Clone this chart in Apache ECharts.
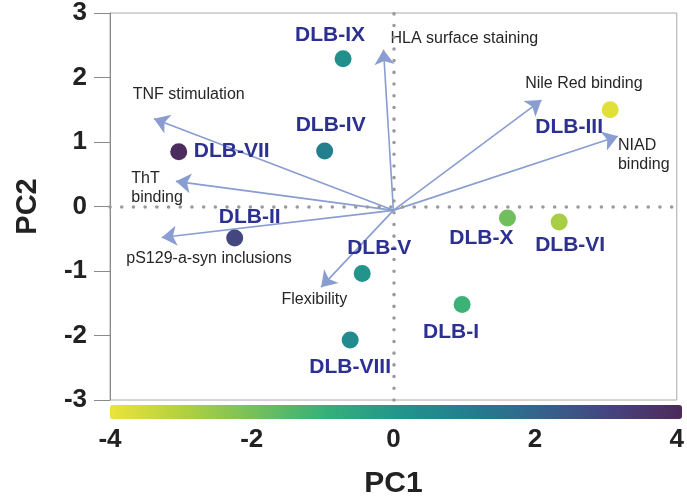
<!DOCTYPE html>
<html>
<head>
<meta charset="utf-8">
<script src="https://cdn.jsdelivr.net/npm/echarts@6/dist/echarts.min.js"></script>
<style>
  html, body { margin: 0; padding: 0; background: #fff; }
  #chart { width: 687px; height: 504px; }
</style>
</head>
<body>
<div id="chart"></div>
<script>
// PCA biplot: samples + loading arrows
var samples = ['DLB-I', 'DLB-II', 'DLB-III', 'DLB-IV', 'DLB-V', 'DLB-VI', 'DLB-VII', 'DLB-VIII', 'DLB-IX', 'DLB-X'];
var pc1 = [0.97, -2.24, 3.06, -0.97, -0.44, 2.34, -3.03, -0.61, -0.71, 1.61];
var pc2 = [-1.52, -0.49, 1.50, 0.86, -1.04, -0.24, 0.85, -2.07, 2.29, -0.18];
var colorScore = [-1.1, 2.9, -3.8, 1.0, 0.1, -2.8, 3.9, 0.5, 0.3, -1.9];

var loadings = ['HLA surface staining', 'Nile Red binding', 'NIAD\nbinding', 'TNF stimulation', 'ThT\nbinding', 'pS129-a-syn inclusions', 'Flexibility'];
var loadX = [-0.14, 2.09, 3.17, -3.38, -3.07, -3.27, -1.02];
var loadY = [2.43, 1.65, 1.09, 1.36, 0.39, -0.48, -1.25];
var origin = [0, -0.06];

var xTicks = [-4, -2, 0, 2, 4];
var yTicks = [-3, -2, -1, 0, 1, 2, 3];

// label placement (layout only)
var sampleLabelOffset = [[-11, 28], [15, -21], [-41, 17], [6, -26], [17, -25], [11, 23], [53, 0], [0, 27], [-13, -24], [-26, 20]];
var loadLabelAt = [[-0.04, 2.60], [1.86, 1.90], [3.17, 0.80], [-3.68, 1.73], [-3.70, 0.29], [-3.77, -0.81], [-1.58, -1.44]];

var FONT = "'Liberation Sans', Arial, sans-serif";

var myChart = echarts.init(document.getElementById('chart'));

var pointData = samples.map(function (n, i) {
    return {
        name: n,
        value: [pc1[i], pc2[i], colorScore[i]],
        label: { offset: sampleLabelOffset[i] }
    };
});

var arrowData = loadings.map(function (n, i) {
    return { coords: [origin, [loadX[i], loadY[i]]] };
});

var arrowLabelData = loadings.map(function (n, i) {
    return { name: n, value: loadLabelAt[i] };
});

var option = {
    animation: false,
    grid: {
        left: 110,
        right: 5,
        top: 13,
        bottom: 101,
        show: true,
        borderColor: '#a8a8a8',
        borderWidth: 1
    },
    xAxis: {
        type: 'value',
        min: -4,
        max: 4,
        interval: 2,
        name: 'PC1',
        nameLocation: 'middle',
        nameGap: 69,
        nameTextStyle: { fontFamily: FONT, fontWeight: 'bold', fontSize: 30, color: '#222' },
        axisLine: { show: false, onZero: false },
        axisTick: { show: false },
        splitLine: { show: false },
        axisLabel: {
            margin: 27,
            fontFamily: FONT,
            fontWeight: 'bold',
            fontSize: 26,
            color: '#222',
            formatter: function (v) { return xTicks.indexOf(v) > -1 ? String(v) : ''; }
        }
    },
    yAxis: {
        type: 'value',
        min: -3,
        max: 3,
        interval: 1,
        name: 'PC2',
        nameLocation: 'middle',
        nameGap: 68,
        nameTextStyle: { fontFamily: FONT, fontWeight: 'bold', fontSize: 29, color: '#222' },
        axisLine: { show: true, onZero: false, lineStyle: { color: '#8a8a8a', width: 1 } },
        axisTick: { show: true, length: 16, lineStyle: { color: '#8a8a8a' } },
        splitLine: { show: false },
        axisLabel: {
            margin: 23,
            fontFamily: FONT,
            fontWeight: 'bold',
            fontSize: 26,
            color: '#222',
            formatter: function (v) { return yTicks.indexOf(v) > -1 ? String(v) : ''; }
        }
    },
    visualMap: {
        type: 'continuous',
        seriesIndex: 0,
        dimension: 2,
        min: -4,
        max: 4,
        orient: 'horizontal',
        left: 110,
        top: 405,
        itemWidth: 14,
        itemHeight: 572,
        calculable: false,
        realtime: false,
        text: null,
        showLabel: false,
        padding: 0,
        inRange: {
            color: ['#ece43a', '#b3d13e', '#76c05b', '#36b079', '#22968b', '#237e8e', '#33648d', '#46437f', '#4d2a5a']
        }
    },
    series: [
        {
            name: 'samples',
            type: 'scatter',
            z: 5,
            symbolSize: 17,
            itemStyle: { opacity: 1 },
            data: pointData,
            label: {
                show: true,
                position: 'inside',
                formatter: '{b}',
                fontFamily: FONT,
                fontWeight: 'bold',
                fontSize: 21,
                color: '#2c3090'
            },
            markLine: {
                silent: true,
                symbol: 'none',
                label: { show: false },
                lineStyle: { color: '#9a9a9a', type: [0.1, 11.6], width: 3.5, cap: 'round' },
                data: [{ xAxis: 0 }, { yAxis: 0 }]
            }
        },
        {
            name: 'loadings',
            type: 'lines',
            coordinateSystem: 'cartesian2d',
            z: 3,
            symbol: ['none', 'arrow'],
            symbolSize: 15,
            lineStyle: { color: '#8a9dd2', width: 1.6, opacity: 1 },
            itemStyle: { color: '#8a9dd2' },
            data: arrowData
        },
        {
            name: 'loading labels',
            type: 'scatter',
            symbolSize: 0,
            silent: true,
            itemStyle: { opacity: 1 },
            data: arrowLabelData,
            label: {
                show: true,
                position: 'right',
                distance: 0,
                formatter: '{b}',
                fontFamily: FONT,
                fontSize: 16,
                lineHeight: 19,
                color: '#262626'
            }
        }
    ]
};

myChart.setOption(option);
</script>
</body>
</html>
